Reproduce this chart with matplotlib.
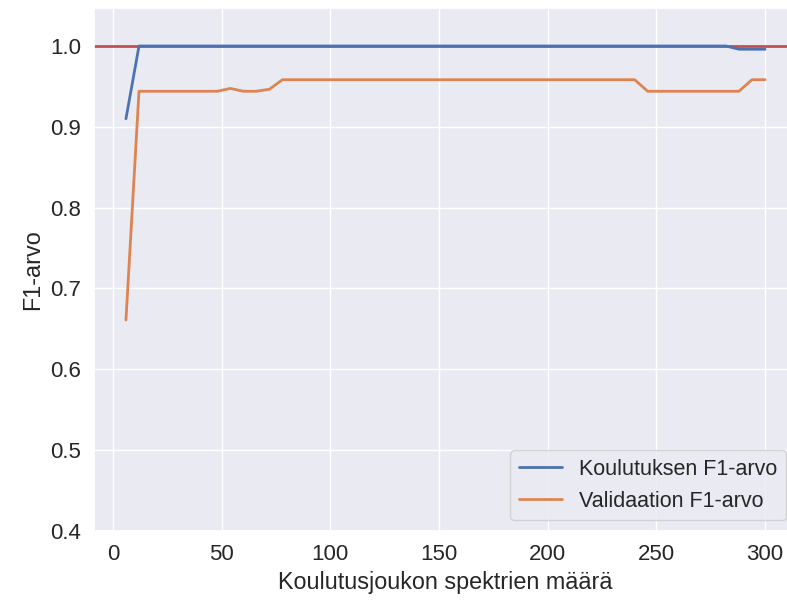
import matplotlib
matplotlib.use("Agg")
import matplotlib.pyplot as plt
import seaborn as sns
import numpy as np

sns.set_theme()
plt.rcParams['font.family'] = ['Liberation Sans', 'DejaVu Sans']

# training set sizes
koko = list(range(6, 301, 6))

koulutus_f1 = [0.91] + [1.0] * 46 + [0.996, 0.996, 0.996]

validaatio_f1 = ([0.661] + [0.944] * 7 + [0.9475, 0.944, 0.944, 0.9465]
                 + [0.9583] * 28 + [0.944] * 8 + [0.9583] * 2)

fig = plt.figure(figsize=(7.87, 6.01), dpi=100)
# axes runs slightly past the right edge of the picture, as in the original crop
ax = fig.add_axes([94 / 787, 70 / 601, 703 / 787, 523 / 601])

ax.axhline(1.0, color='#C44E52', lw=2, zorder=1)
ax.plot(koko, koulutus_f1, color='#4C72B0', lw=2, label='Koulutuksen F1-arvo', zorder=2)
ax.plot(koko, validaatio_f1, color='#DD8452', lw=2, label='Validaation F1-arvo', zorder=2)

ax.set_xlim(-8.7, 314.7)
ax.set_ylim(0.4, 1.047)
ax.set_xticks([0, 50, 100, 150, 200, 250, 300])
ax.set_yticks(np.arange(0.4, 1.01, 0.1))
ax.tick_params(labelsize=16)
ax.set_xlabel('Koulutusjoukon spektrien määrä', fontsize=16.8)
ax.set_ylabel('F1-arvo', fontsize=16.8)
ax.legend(loc='lower right', fontsize=15.5)

fig.savefig('out.png', dpi=100)
